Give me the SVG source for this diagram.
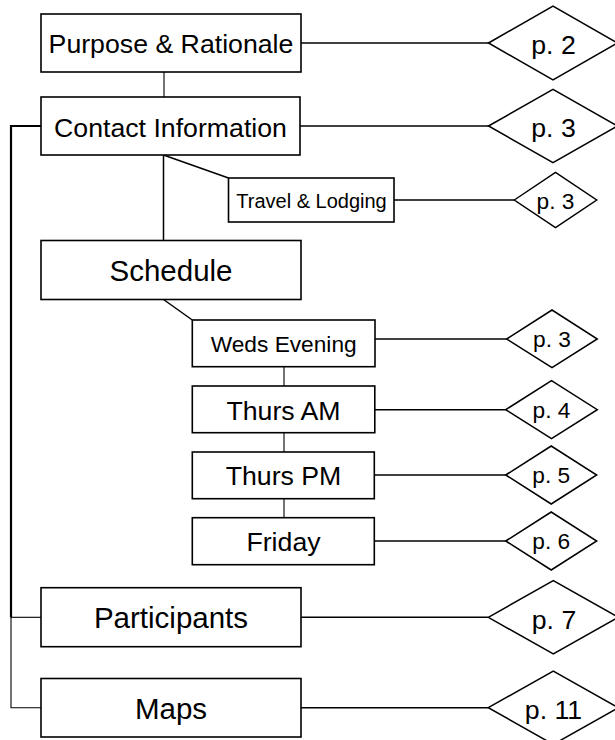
<svg xmlns="http://www.w3.org/2000/svg" width="615" height="740" viewBox="0 0 615 740">
<style>
.box{fill:#fff;stroke:#000;stroke-width:1.6}
.dia{fill:#fff;stroke:#000;stroke-width:1.5}
.ln{fill:none;stroke:#000;stroke-width:1.5}
.thin{fill:none;stroke:#000;stroke-width:1.1}
.thick{fill:none;stroke:#000;stroke-width:2.2}
text{font-family:"Liberation Sans",Arial,sans-serif;fill:#000;text-anchor:middle}
.t27{font-size:26.7px}
.t29{font-size:29.5px}
.t23{font-size:22.7px}
.t20{font-size:20px}
</style>
<rect width="615" height="740" fill="#fff"/>
<g id="connectors">
<line class="ln" x1="301" y1="43" x2="489" y2="43"/>
<line class="thin" x1="164" y1="72" x2="164" y2="97"/>
<line class="ln" x1="300" y1="126" x2="489" y2="126"/>
<line class="ln" x1="163.5" y1="155" x2="163.5" y2="240.5"/>
<line class="ln" x1="163.5" y1="155" x2="228.5" y2="178"/>
<line class="ln" x1="394" y1="200" x2="514.3" y2="200"/>
<line class="ln" x1="163.5" y1="299.5" x2="192.3" y2="320"/>
<line class="ln" x1="375" y1="339" x2="506.7" y2="339"/>
<line class="thin" x1="284" y1="366.7" x2="284" y2="386"/>
<line class="ln" x1="375" y1="409.7" x2="505.7" y2="409.7"/>
<line class="thin" x1="284" y1="432.7" x2="284" y2="452"/>
<line class="ln" x1="374.3" y1="475" x2="505.7" y2="475"/>
<line class="thin" x1="284" y1="498.7" x2="284" y2="517.7"/>
<line class="ln" x1="374.3" y1="541" x2="505.7" y2="541"/>
<line class="ln" x1="301" y1="617.2" x2="488.3" y2="617.2"/>
<line class="ln" x1="301" y1="707.7" x2="488.3" y2="707.7"/>
<polyline class="thick" points="41,126 11,126 11,617.3"/>
<line class="thin" x1="11" y1="617.3" x2="41" y2="617.3"/>
<polyline class="thin" points="11,617 11,707.7 41,707.7"/>
</g>
<g id="purpose"><rect class="box" x="41" y="14" width="260" height="58"/><text class="t27" x="171" y="53">Purpose &amp; Rationale</text></g>
<g id="contact"><rect class="box" x="41" y="97" width="259" height="58"/><text class="t27" x="170.5" y="136.5">Contact Information</text></g>
<g id="travel"><rect class="box" x="228.5" y="178" width="165.5" height="44"/><text class="t20" x="311.5" y="207.5">Travel &amp; Lodging</text></g>
<g id="schedule"><rect class="box" x="41" y="240.5" width="260" height="59"/><text class="t29" x="171" y="281">Schedule</text></g>
<g id="weds"><rect class="box" x="192.3" y="320" width="182.7" height="46.7"/><text class="t23" x="283.7" y="351.5">Weds Evening</text></g>
<g id="thursam"><rect class="box" x="192.3" y="386" width="182.5" height="46.7"/><text class="t27" x="283.5" y="419.5">Thurs AM</text></g>
<g id="thurspm"><rect class="box" x="192.3" y="452" width="182" height="46.7"/><text class="t27" x="283.5" y="485">Thurs PM</text></g>
<g id="friday"><rect class="box" x="192.3" y="517.7" width="182" height="47"/><text class="t27" x="283.5" y="551">Friday</text></g>
<g id="participants"><rect class="box" x="41" y="587.7" width="260" height="59"/><text class="t29" x="171" y="628">Participants</text></g>
<g id="maps"><rect class="box" x="41" y="678.5" width="260" height="58.5"/><text class="t29" x="171" y="718.5">Maps</text></g>
<g id="d-p2"><polygon class="dia" points="488.5,43 553,6 617.5,43 553,80"/><text class="t27" x="553.5" y="54">p. 2</text></g>
<g id="d-p3a"><polygon class="dia" points="488.5,126 553,89.3 617.5,126 553,162.7"/><text class="t27" x="553.5" y="136.7">p. 3</text></g>
<g id="d-p3b"><polygon class="dia" points="514.3,200 555.5,172.3 596.7,200 555.5,227.7"/><text class="t23" x="555.5" y="209">p. 3</text></g>
<g id="d-p3c"><polygon class="dia" points="506.7,339 552,310 597.3,339 552,367.7"/><text class="t23" x="552" y="347.3">p. 3</text></g>
<g id="d-p4"><polygon class="dia" points="505.7,409.7 551.5,380.7 597.3,409.7 551.5,438.7"/><text class="t23" x="551.5" y="417.5">p. 4</text></g>
<g id="d-p5"><polygon class="dia" points="505.7,475 551.2,446 596.7,475 551.2,504"/><text class="t23" x="551.2" y="483.3">p. 5</text></g>
<g id="d-p6"><polygon class="dia" points="505.7,541 551.2,512 596.7,541 551.2,570"/><text class="t23" x="551.2" y="549.3">p. 6</text></g>
<g id="d-p7"><polygon class="dia" points="488.3,617.3 553.3,580.7 618.3,617.3 553.3,654"/><text class="t27" x="554" y="628.5">p. 7</text></g>
<g id="d-p11"><polygon class="dia" points="488.3,707.7 553.3,671 618.3,707.7 553.3,744.4"/><text class="t27" x="553.5" y="718.5">p. 11</text></g>
</svg>
